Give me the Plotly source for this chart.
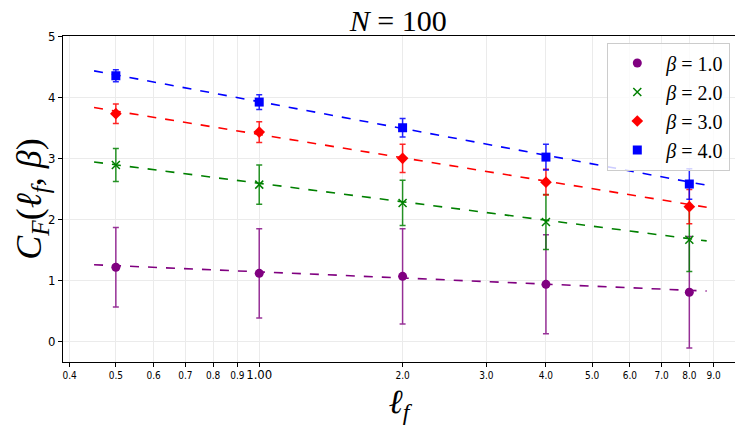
import plotly.graph_objects as go

ell = [0.5, 1.0, 2.0, 4.0, 8.0]
betas = ["1.0", "2.0", "3.0", "4.0"]
vals = {
    "1.0": [1.22, 1.12, 1.07, 0.94, 0.81],
    "2.0": [2.89, 2.57, 2.27, 1.96, 1.67],
    "3.0": [3.73, 3.43, 3.00, 2.61, 2.21],
    "4.0": [4.35, 3.92, 3.50, 3.02, 2.58],
}
errs = {
    "1.0": [0.65, 0.73, 0.78, 0.81, 0.91],
    "2.0": [0.27, 0.32, 0.37, 0.45, 0.52],
    "3.0": [0.16, 0.17, 0.23, 0.21, 0.28],
    "4.0": [0.10, 0.12, 0.15, 0.21, 0.25],
}
fit_x = [0.45, 8.7]
fit_y = {
    "1.0": [1.26, 0.83],
    "2.0": [2.94, 1.65],
    "3.0": [3.83, 2.20],
    "4.0": [4.43, 2.56],
}
colors = {"1.0": "#800080", "2.0": "#008000", "3.0": "#ff0000", "4.0": "#0000ff"}
err_colors = {"1.0": "rgba(128,0,128,0.8)", "2.0": "rgba(0,128,0,0.85)",
              "3.0": "rgba(255,0,0,0.85)", "4.0": "rgba(0,0,255,0.85)"}
symbols = {"1.0": "circle", "2.0": "x-thin-open", "3.0": "diamond", "4.0": "square"}

x_tickvals = [0.4, 0.5, 0.6, 0.7, 0.8, 0.9, 1.0, 2.0, 3.0, 4.0, 5.0, 6.0, 7.0, 8.0, 9.0]
x_ticktext = ["0.4", "0.5", "0.6", "0.7", "0.8", "0.9",
              '<span style="font-size:13px">1.00</span>',
              "2.0", "3.0", "4.0", "5.0", "6.0", "7.0", "8.0", "9.0"]
y_tickvals = [0, 1, 2, 3, 4, 5]

ELL = '<span style="font-family:DejaVu Serif"><i>ℓ</i></span>'

fig = go.Figure()
for b in betas:
    fig.add_trace(go.Scatter(
        x=fit_x, y=fit_y[b], mode="lines",
        line=dict(color=colors[b], width=1.6, dash="dash"),
        showlegend=False, hoverinfo="skip"))
for b in betas:
    mk = dict(color=colors[b], size=9, symbol=symbols[b])
    if b == "2.0":
        mk["line"] = dict(color=colors[b], width=1.5)
        mk["size"] = 8
    fig.add_trace(go.Scatter(
        x=ell, y=vals[b], mode="markers",
        marker=mk,
        error_y=dict(type="data", array=errs[b], color=err_colors[b], thickness=1.5, width=3),
        name="<i>β</i> = " + b))

fig.update_layout(
    width=735, height=418,
    margin=dict(l=55, r=8, t=28, b=64, autoexpand=False),
    paper_bgcolor="white", plot_bgcolor="white",
    title=dict(text="<i>N</i> = 100", x=0.531, xanchor="center", y=0.969, yanchor="middle",
               font=dict(family="Liberation Serif", size=30, color="black")),
    legend=dict(x=0.993, y=0.98, xanchor="right", yanchor="top",
                bgcolor="rgba(255,255,255,0.8)", bordercolor="#cccccc", borderwidth=1,
                font=dict(family="Liberation Serif", size=20, color="black"),
                itemwidth=48),
    font=dict(family="DejaVu Sans", color="black"),
)
fig.update_xaxes(
    type="log", range=[-0.412, 0.999], automargin=False,
    tickvals=x_tickvals, ticktext=x_ticktext, tickangle=0,
    tickfont=dict(size=10, family="DejaVu Sans Condensed, DejaVu Sans", color="black"),
    ticks="outside", ticklen=4, tickcolor="black",
    showgrid=True, gridcolor="#ebebeb", gridwidth=1,
    showline=True, linecolor="black", linewidth=1, mirror=True, zeroline=False,
    title=dict(text=ELL + "<sub><i>f</i></sub>", font=dict(family="Liberation Serif", size=34, color="black"),
               standoff=4),
)
fig.update_yaxes(
    range=[-0.33, 5.0], automargin=False,
    tickvals=y_tickvals,
    tickfont=dict(size=13, family="DejaVu Sans Condensed, DejaVu Sans", color="black"),
    ticks="outside", ticklen=4, tickcolor="black",
    showgrid=True, gridcolor="#ebebeb", gridwidth=1,
    showline=True, linecolor="black", linewidth=1, mirror=True, zeroline=False,
    title=dict(text="<i>C</i><sub><i>F</i></sub>(" + ELL + "<sub><i>f</i></sub>, <i>β</i>)",
               font=dict(family="Liberation Serif", size=36, color="black"), standoff=8),
)
fig.write_html("out.html")
